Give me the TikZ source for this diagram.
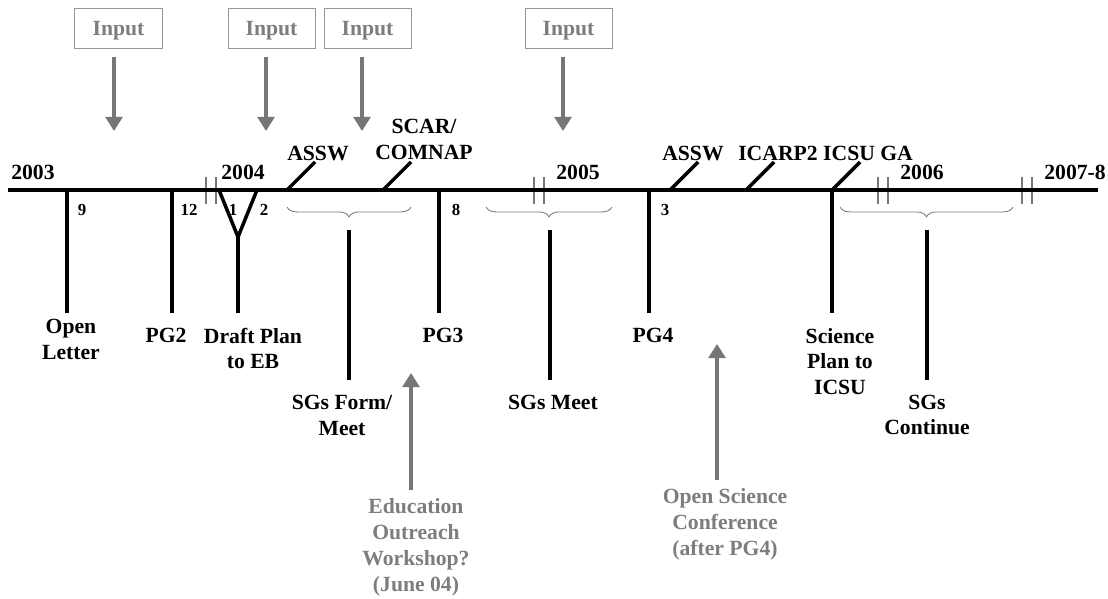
\documentclass[tikz,border=0pt]{standalone}
\usepackage{fontspec}
\setmainfont{Liberation Serif}
\usetikzlibrary{arrows.meta,decorations.pathreplacing}
\definecolor{arrowgray}{RGB}{118,118,118}
\definecolor{boxgray}{RGB}{150,150,150}
\definecolor{textgray}{RGB}{125,125,125}

\begin{document}
\begin{tikzpicture}[x=0.025cm,y=-0.025cm,
  lbl/.style={font=\bfseries\fontsize{15.4}{18.4}\selectfont,align=center,inner sep=0pt},
  graylbl/.style={lbl,text=textgray},
  num/.style={font=\bfseries\fontsize{12}{14}\selectfont,inner sep=0pt},
  inbox/.style={draw=boxgray,line width=0.7pt,minimum width=2.175cm,minimum height=1cm,
    text=textgray,text depth=0pt,font=\bfseries\fontsize{15.4}{18.4}\selectfont},
  garrow/.style={draw=arrowgray,line width=2.2pt,-{Triangle[width=12pt,length=10pt]}},
  mainline/.style={line width=3pt},
  tline/.style={line width=2.5pt},
  brk/.style={draw=arrowgray,line width=1.2pt},
  brc/.style={draw=arrowgray,line width=0.6pt,decorate,decoration={brace,mirror,amplitude=7pt}}]
	\useasboundingbox (0,0) rectangle (1108,598);
	% inputs from above
	\foreach \bx/\ax/\n in {118.5/114/1,271.5/266/2,367.5/362/3,568.5/563/4}{
		\node[inbox] (in\n) at (\bx,28) {Input};
		\coordinate (ain\n) at (\ax,131);
		\draw[garrow] ([yshift=-2mm]in\n.south -| ain\n) -- (ain\n);
	}
	% breaks between the years
	\foreach \x in {206,534,878,1022}{
		\draw[brk] (\x,177) -- (\x,204);
		\draw[brk] (\x+10,177) -- (\x+10,204);
	}
	% time line
	\coordinate (lstart) at (8,190);
	\coordinate (lend) at (1098,190);
	\draw[mainline] (lstart) -- (lend);
	\node[lbl] (y2003) at (33,172) {2003};
	\node[lbl] (y2004) at (243,172) {2004};
	\node[lbl] (y2005) at (578,172) {2005};
	\node[lbl] (y2006) at (922,172) {2006};
	\node[lbl] (y2007) at (1075,172) {2007-8};
	% months
	\node[num] (m9) at (82,210) {9};
	\node[num] (m12) at (189,210) {12};
	\node[num] (m1) at (233,210) {1};
	\node[num] (m2) at (264,210) {2};
	\node[num] (m8) at (456,210) {8};
	\node[num] (m3) at (665,210) {3};
	% events below the line
	\coordinate (openT) at (67,190);   \coordinate (openB) at (67,313);
	\coordinate (pg2T) at (172,190);   \coordinate (pg2B) at (172,313);
	\coordinate (pg3T) at (439,190);   \coordinate (pg3B) at (439,313);
	\coordinate (pg4T) at (649,190);   \coordinate (pg4B) at (649,313);
	\coordinate (spT) at (832,190);    \coordinate (spB) at (832,313);
	\draw[tline] (openT) -- (openB);
	\draw[tline] (pg2T) -- (pg2B);
	\draw[tline] (pg3T) -- (pg3B);
	\draw[tline] (pg4T) -- (pg4B);
	\draw[tline] (spT) -- (spB);
	\coordinate (dpL) at (219,190);
	\coordinate (dpR) at (257,190);
	\coordinate (dpV) at (238,237);
	\coordinate (dpB) at (238,313);
	\draw[tline,line join=miter] (dpL) -- (dpV) -- (dpR);
	\draw[tline] (dpV) -- (dpB);
	\node[lbl] (open) at (71,339) {Open\\Letter};
	\node[lbl] (pg2) at (166,335) {PG2};
	\node[lbl] (draft) at (253,348.5) {Draft Plan\\to EB};
	\node[lbl] (pg3) at (443,335) {PG3};
	\node[lbl] (pg4) at (653,335) {PG4};
	\node[lbl] (splan) at (840,361.5) {Science\\Plan to\\ICSU};
	% study groups
	\draw[brc] (287,207) -- (411,207);
	\draw[brc] (486,207) -- (612,207);
	\draw[brc] (840,207) -- (1013,207);
	\coordinate (sg1T) at (349,230);  \coordinate (sg1B) at (349,380);
	\coordinate (sg2T) at (550,230);  \coordinate (sg2B) at (550,380);
	\coordinate (sg3T) at (927,230);  \coordinate (sg3B) at (927,380);
	\draw[tline] (sg1T) -- (sg1B);
	\draw[tline] (sg2T) -- (sg2B);
	\draw[tline] (sg3T) -- (sg3B);
	\node[lbl] (sgform) at (342,415) {SGs Form/\\Meet};
	\node[lbl] (sgmeet) at (553,402) {SGs Meet};
	\node[lbl] (sgcont) at (927,415) {SGs\\Continue};
	% meetings above the line
	\foreach \x/\n in {287/assw1,383/scar,670/assw2,746/icarp,832/icsu}{
		\coordinate (\n A) at (\x,190);
		\coordinate (\n B) at (\x+28,162);
		\draw[tline] (\n A) -- (\n B);
	}
	\node[lbl] (assw1) at (318,153) {ASSW};
	\node[lbl] (scar) at (424,139) {SCAR/\\COMNAP};
	\node[lbl] (assw2) at (693,153) {ASSW};
	\node[lbl] (icarp) at (778,153) {ICARP2};
	\node[lbl] (icsu) at (868,153) {ICSU GA};
	% outreach and conference
	\node[graylbl] (edu) at (416,547) {Education\\Outreach\\Workshop?\\(June 04)};
	\node[graylbl] (osc) at (725,524) {Open Science\\Conference\\(after PG4)};
	\coordinate (eduT) at (411,373);
	\coordinate (oscT) at (717,344);
	\draw[garrow] ([yshift=2mm]edu.north -| eduT) -- (eduT);
	\draw[garrow] ([yshift=2mm]osc.north -| oscT) -- (oscT);
\end{tikzpicture}
\end{document}
